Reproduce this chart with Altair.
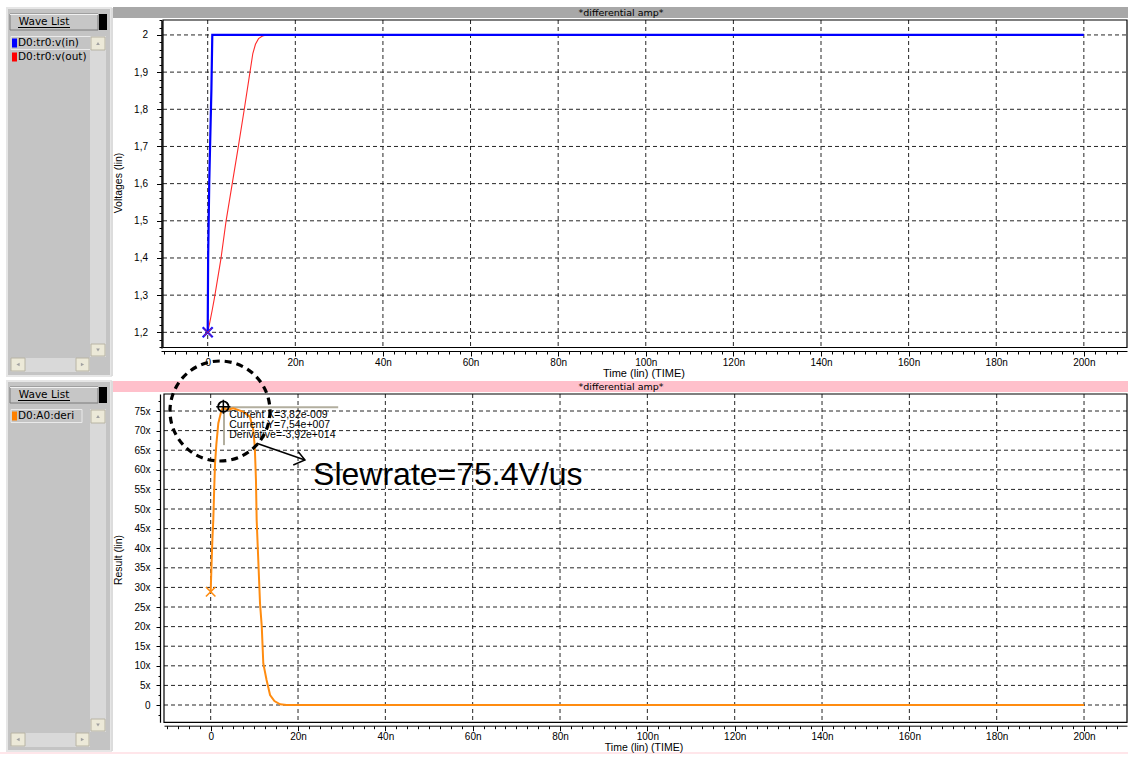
import altair as alt
import numpy as np
import pandas as pd

# ---------------- values ----------------
# top panel: voltages (V) against time (ns)
vin_t = [0.0, 0.1, 0.35, 0.6, 0.85, 1.05, 200.0]
vin_v = [1.2, 1.4, 1.6, 1.73, 1.855, 2.0, 2.0]
vout_t = [0.0, 0.5, 1.0, 1.5, 2.0, 3.0, 4.2, 5.6, 7.0, 8.35, 9.65, 10.3, 10.9, 11.6, 12.5, 13.5, 200.0]
vout_v = [1.2, 1.228, 1.258, 1.29, 1.325, 1.396, 1.5, 1.6, 1.7, 1.8, 1.9, 1.95, 1.975, 1.99, 1.997, 2.0, 2.0]
# bottom panel: derivative of v(out), in "x" (= 1e6 V/s)
deri_t = [0.0, 0.23, 0.4, 0.6, 0.8, 1.0, 1.3, 1.75, 2.5, 2.9, 3.7, 5.2, 7.5, 9.0, 9.75, 10.1,
          10.37, 10.53, 10.9, 11.3, 11.7, 12.05, 12.8, 13.6, 14.6, 15.9, 17.4, 200.0]
deri_v = [28.9, 37.0, 42.5, 47.2, 55.0, 61.7, 66.5, 71.9, 75.3, 76.0, 75.3, 75.7, 74.8, 73.5, 70.2, 65.9,
          57.4, 47.2, 37.0, 25.9, 20.0, 10.6, 6.4, 2.55, 1.0, 0.18, 0.0, 0.0]

top_series = ["D0:tr0:v(in)", "D0:tr0:v(out)"]
bottom_series = ["D0:A0:deri"]
panel_title = "*differential amp*"

x_ticks = [0, 20, 40, 60, 80, 100, 120, 140, 160, 180, 200]
x_labels = ["0", "20n", "40n", "60n", "80n", "100n", "120n", "140n", "160n", "180n", "200n"]
vt_ticks = [1.2, 1.3, 1.4, 1.5, 1.6, 1.7, 1.8, 1.9, 2.0]
vt_labels = ["1,2", "1,3", "1,4", "1,5", "1,6", "1,7", "1,8", "1,9", "2"]
rb_ticks = [0, 5, 10, 15, 20, 25, 30, 35, 40, 45, 50, 55, 60, 65, 70, 75]
rb_labels = ["0", "5x", "10x", "15x", "20x", "25x", "30x", "35x", "40x", "45x", "50x",
             "55x", "60x", "65x", "70x", "75x"]

cursor_t, cursor_v = [2.9], [76.1]
readout = ["Current X=3,82e-009", "Current Y=7,54e+007", "Derivative=-3,92e+014"]
readout_t = [4.26, 4.26, 4.26]
readout_v = [73.98, 71.43, 68.88]
circle_t, circle_v = [2.13], [75.0]
arrow_t = [10.53, 21.59]
arrow_v = [66.76, 62.5]
head_t = [20.06, 21.59, 18.91]
head_v = [64.62, 62.5, 61.22]
slew_text = "Slewrate=75.4V/us"
slew_t, slew_v = [23.45], [56.1]
hair_h_t, hair_h_v = [2.9, 29.2], [75.94, 75.94]
hair_v_t, hair_v_v = [3.05, 3.05], [75.94, 66.3]

# ---------------- scales ----------------
FONT = "Liberation Sans"
UI = "DejaVu Sans"
GRID = "#262626"
XT = alt.Scale(domain=[-10.66, 209.85], range=[161, 1127], nice=False, zero=False)
YT = alt.Scale(domain=[1.1578, 2.0402], range=[348, 20], nice=False, zero=False)
XB = alt.Scale(domain=[-10.69, 209.84], range=[164, 1127], nice=False, zero=False)
YB = alt.Scale(domain=[-4.41, 79.34], range=[722.3, 394], nice=False, zero=False)

minor_xt = [float(v) for v in np.arange(-10, 209, 2.5)]
minor_yt = [round(float(v), 3) for v in np.arange(1.16, 2.041, 0.02)]
minor_yb = [float(v) for v in np.arange(-2.5, 79, 2.5)]


def lab_expr(ticks, labels):
    parts = [f"abs(datum.value - ({v})) < 1e-6 ? '{s}'" for v, s in zip(ticks, labels)]
    return " : ".join(parts) + " : ''"


def axis(orient, offset, values, labels=None, tick=5, pad=2, domain=True, dw=1.0):
    kw = dict(labelFont=FONT, labelFontSize=10, labelColor="black", tickColor="black",
              domainColor="black", grid=False, title=None, labelFlush=False, labelOverlap=False,
              orient=orient, offset=offset, values=list(values), tickSize=tick,
              domain=domain, domainWidth=dw, ticks=True)
    if labels is None:
        kw["labels"] = False
    else:
        kw["labelExpr"] = lab_expr(values, labels)
        kw["labelPadding"] = pad
    return alt.Axis(**kw)


one = pd.DataFrame({"k": [0]})


def box(x0, y0, x1, y1, fill, stroke=None, sw=1.0, fo=1.0):
    kw = dict(fill=fill, fillOpacity=fo)
    if stroke:
        kw.update(stroke=stroke, strokeWidth=sw)
    return alt.Chart(one).mark_rect(**kw).encode(
        x=alt.value(x0), x2=alt.value(x1), y=alt.value(y0), y2=alt.value(y1))


def hline(x0, x1, y, color, sw=1.0):
    return alt.Chart(one).mark_rule(color=color, strokeWidth=sw).encode(
        x=alt.value(x0), x2=alt.value(x1), y=alt.value(y))


def label(x, y, s, size=10, font=UI, align="left", color="black", angle=0, baseline="middle"):
    return alt.Chart(one).mark_text(text=s, fontSize=size, font=font, align=align, color=color,
                                    angle=angle, baseline=baseline).encode(
        x=alt.value(x), y=alt.value(y))


def tri(x, y, shape):
    return alt.Chart(one).mark_point(shape=shape, filled=True, color="#A0A0A0", size=14, opacity=1).encode(
        x=alt.value(x), y=alt.value(y))


def button(x0, y0, x1, y1):
    return [box(x0, y0, x1, y1, "#ECE9D8", "#B8B4A4", 1)]


def sidebar(top, bottom, items):
    L = []
    L.append(box(7, top, 111, bottom, "#C4C4C4", "#E6E6E6", 2))
    # Wave List button
    L.append(box(10, top + 6, 98, top + 22, "#C6C6C6", "#7A7A7A", 1))
    L.append(hline(10, 98, top + 6.5, "#F0F0F0", 1))
    L.append(label(44, top + 14, "Wave List", 10.5, UI, "center"))
    L.append(hline(18, 70, top + 19.5, "black", 1))
    L.append(box(99, top + 6, 107, top + 22, "black"))
    # list items
    for i, (name, col) in enumerate(items):
        cy = top + 35 + 14 * i
        if i == 0:
            L.append(box(11, cy - 6.5, 12 + 6.2 * len(name) + 8, cy + 6.5, "#C4C4C4", "#EAEAEA", 1))
        L.append(box(12, cy - 4.5, 17, cy + 4.5, col))
        L.append(label(18, cy, name, 10.5, UI))
    # vertical scrollbar
    L.append(box(90, top + 28, 106, bottom - 19, "#D9D9D9"))
    L += button(91, top + 29, 105, top + 42)
    L.append(tri(98, top + 35.5, "triangle-up"))
    L += button(91, bottom - 32, 105, bottom - 20)
    L.append(tri(98, bottom - 26, "triangle-down"))
    # horizontal scrollbar
    L.append(box(11, bottom - 18, 90, bottom - 4, "#D9D9D9"))
    L += button(11, bottom - 18, 25, bottom - 5)
    L.append(tri(18, bottom - 11.5, "triangle-left"))
    L += button(76, bottom - 18, 89, bottom - 5)
    L.append(tri(82.5, bottom - 11.5, "triangle-right"))
    return L


layers = []
# ---------------- window chrome ----------------
layers += sidebar(8, 376, [(top_series[0], "#0000FF"), (top_series[1], "#FF0000")])
layers += sidebar(381, 751, [(bottom_series[0], "#FF8000")])
layers.append(box(111, 8, 113, 376, "#DCDCDC"))
layers.append(box(111, 381, 113, 751, "#DCDCDC"))
layers.append(box(113, 7, 1128, 18, "#A8A8A8"))
layers.append(label(621, 13, panel_title, 9.5, UI, "center"))
layers.append(box(113, 381, 1128, 392, "#FFC0CB"))
layers.append(label(621, 386.5, panel_title, 9.5, UI, "center"))
layers.append(box(0, 752, 1128, 754, "#FFE6EA"))

# ---------------- top panel ----------------
gx = pd.DataFrame({"t": x_ticks})
gvt = pd.DataFrame({"v": vt_ticks})
layers.append(alt.Chart(gx).mark_rule(color=GRID, strokeDash=[4, 3], strokeWidth=1).encode(
    x=alt.X("t:Q", scale=XT, axis=axis("bottom", -407, x_ticks, x_labels, 5, 1)),
    y=alt.value(20), y2=alt.value(347)))
layers.append(alt.Chart(pd.DataFrame({"t": minor_xt})).mark_rule(opacity=0).encode(
    x=alt.X("t:Q", scale=XT, axis=axis("bottom", -407, minor_xt, None, 3, domain=False)),
    y=alt.value(0), y2=alt.value(1)))
layers.append(alt.Chart(gvt).mark_rule(color=GRID, strokeDash=[4, 3], strokeWidth=1).encode(
    y=alt.Y("v:Q", scale=YT, axis=axis("left", -161.5, vt_ticks, vt_labels, 5, 9, dw=1.5)),
    x=alt.value(163), x2=alt.value(1127)))
layers.append(alt.Chart(pd.DataFrame({"v": minor_yt})).mark_rule(opacity=0).encode(
    y=alt.Y("v:Q", scale=YT, axis=axis("left", -161.5, minor_yt, None, 2.5, domain=False)),
    x=alt.value(0), x2=alt.value(1)))
layers.append(box(163, 20, 1127, 347.5, "white", "black", 1.2, 0))

vout = pd.DataFrame({"t": vout_t, "v": vout_v, "i": range(len(vout_t))})
vin = pd.DataFrame({"t": vin_t, "v": vin_v, "i": range(len(vin_t))})
layers.append(alt.Chart(vout).mark_line(color="#FF2A2A", strokeWidth=1.1).encode(
    x=alt.X("t:Q", scale=XT, axis=None), y=alt.Y("v:Q", scale=YT, axis=None), order="i:Q"))
layers.append(alt.Chart(vin).mark_line(color="#0000FF", strokeWidth=2.2).encode(
    x=alt.X("t:Q", scale=XT, axis=None), y=alt.Y("v:Q", scale=YT, axis=None), order="i:Q"))
XSHAPE = "M-1,-1L1,1M-1,1L1,-1"
start_top = pd.DataFrame({"t": [vin_t[0]], "v": [vin_v[0]]})
layers.append(alt.Chart(start_top).mark_point(shape=XSHAPE, size=100, color="#1010FF", strokeWidth=2.2, opacity=1).encode(
    x=alt.X("t:Q", scale=XT, axis=None), y=alt.Y("v:Q", scale=YT, axis=None)))
layers.append(alt.Chart(start_top).mark_point(shape=XSHAPE, size=60, color="#C02060", strokeWidth=0.9, opacity=1).encode(
    x=alt.X("t:Q", scale=XT, axis=None), y=alt.Y("v:Q", scale=YT, axis=None)))
layers.append(label(119, 183, "Voltages (lin)", 10.5, FONT, "center", angle=270))
layers.append(label(644, 374, "Time (lin) (TIME)", 11, FONT, "center"))

# ---------------- bottom panel ----------------
grb = pd.DataFrame({"v": rb_ticks})
layers.append(alt.Chart(gx).mark_rule(color=GRID, strokeDash=[4, 3], strokeWidth=1).encode(
    x=alt.X("t:Q", scale=XB, axis=axis("bottom", -32.3, x_ticks, x_labels, 5, 1)),
    y=alt.value(394), y2=alt.value(722)))
layers.append(alt.Chart(pd.DataFrame({"t": minor_xt})).mark_rule(opacity=0).encode(
    x=alt.X("t:Q", scale=XB, axis=axis("bottom", -32.3, minor_xt, None, 3, domain=False)),
    y=alt.value(0), y2=alt.value(1)))
layers.append(alt.Chart(grb).mark_rule(color=GRID, strokeDash=[4, 3], strokeWidth=1).encode(
    y=alt.Y("v:Q", scale=YB, axis=axis("left", -160, rb_ticks, rb_labels, 4, 6, dw=1.2)),
    x=alt.value(164), x2=alt.value(1127)))
layers.append(alt.Chart(pd.DataFrame({"v": minor_yb})).mark_rule(opacity=0).encode(
    y=alt.Y("v:Q", scale=YB, axis=axis("left", -160, minor_yb, None, 2, domain=False)),
    x=alt.value(0), x2=alt.value(1)))
layers.append(box(164, 394, 1127, 722.3, "white", "black", 1.2, 0))

# cursor cross-hair (drawn under the curve)
layers.append(alt.Chart(pd.DataFrame({"t": hair_h_t, "v": hair_h_v})).mark_line(color="#B2AE9E", strokeWidth=2).encode(
    x=alt.X("t:Q", scale=XB, axis=None), y=alt.Y("v:Q", scale=YB, axis=None)))
layers.append(alt.Chart(pd.DataFrame({"t": hair_v_t, "v": hair_v_v})).mark_line(color="#B2AE9E", strokeWidth=2).encode(
    x=alt.X("t:Q", scale=XB, axis=None), y=alt.Y("v:Q", scale=YB, axis=None)))

deri = pd.DataFrame({"t": deri_t, "v": deri_v, "i": range(len(deri_t))})
layers.append(alt.Chart(deri).mark_line(color="#FF8C10", strokeWidth=2).encode(
    x=alt.X("t:Q", scale=XB, axis=None), y=alt.Y("v:Q", scale=YB, axis=None), order="i:Q"))
start_bot = pd.DataFrame({"t": [deri_t[0]], "v": [deri_v[0]]})
layers.append(alt.Chart(start_bot).mark_point(shape=XSHAPE, size=90, color="#FF8C10", strokeWidth=1.6, opacity=1).encode(
    x=alt.X("t:Q", scale=XB, axis=None), y=alt.Y("v:Q", scale=YB, axis=None)))
cur = pd.DataFrame({"t": cursor_t, "v": cursor_v})
layers.append(alt.Chart(cur).mark_point(shape="circle", size=110, color="black", strokeWidth=1.8, filled=False, opacity=1).encode(
    x=alt.X("t:Q", scale=XB, axis=None), y=alt.Y("v:Q", scale=YB, axis=None)))
layers.append(alt.Chart(cur).mark_point(shape="M-1,0L1,0M0,-1L0,1", size=200, color="black", strokeWidth=1.5, opacity=1).encode(
    x=alt.X("t:Q", scale=XB, axis=None), y=alt.Y("v:Q", scale=YB, axis=None)))

rd = pd.DataFrame({"t": readout_t, "v": readout_v, "s": readout})
layers.append(alt.Chart(rd).mark_text(font=FONT, fontSize=10.5, align="left", baseline="middle", color="black").encode(
    x=alt.X("t:Q", scale=XB, axis=None), y=alt.Y("v:Q", scale=YB, axis=None), text="s:N"))

# annotation: dashed circle, arrow and slew-rate text
layers.append(alt.Chart(pd.DataFrame({"t": circle_t, "v": circle_v})).mark_point(
    shape="circle", size=10000, filled=False, color="black", strokeWidth=3.2, strokeDash=[7, 5], opacity=1).encode(
    x=alt.X("t:Q", scale=XB, axis=None), y=alt.Y("v:Q", scale=YB, axis=None)))
layers.append(alt.Chart(pd.DataFrame({"t": arrow_t, "v": arrow_v, "i": [0, 1]})).mark_line(color="black", strokeWidth=1.5).encode(
    x=alt.X("t:Q", scale=XB, axis=None), y=alt.Y("v:Q", scale=YB, axis=None), order="i:Q"))
layers.append(alt.Chart(pd.DataFrame({"t": head_t, "v": head_v, "i": [0, 1, 2]})).mark_line(color="black", strokeWidth=1.5).encode(
    x=alt.X("t:Q", scale=XB, axis=None), y=alt.Y("v:Q", scale=YB, axis=None), order="i:Q"))
layers.append(alt.Chart(pd.DataFrame({"t": slew_t, "v": slew_v})).mark_text(
    text=slew_text, font=FONT, fontSize=32, align="left", baseline="alphabetic", color="black").encode(
    x=alt.X("t:Q", scale=XB, axis=None), y=alt.Y("v:Q", scale=YB, axis=None)))

layers.append(label(119, 560, "Result (lin)", 10.5, FONT, "center", angle=270))
layers.append(label(644, 748, "Time (lin) (TIME)", 10.5, FONT, "center"))

chart = alt.layer(*layers).resolve_scale(x="independent", y="independent").properties(
    width=1128, height=758, autosize=alt.AutoSizeParams(type="none"), padding=0,
    background="white").configure_view(stroke=None)

chart.save("out.html", embed_options={"renderer": "svg", "actions": False})
